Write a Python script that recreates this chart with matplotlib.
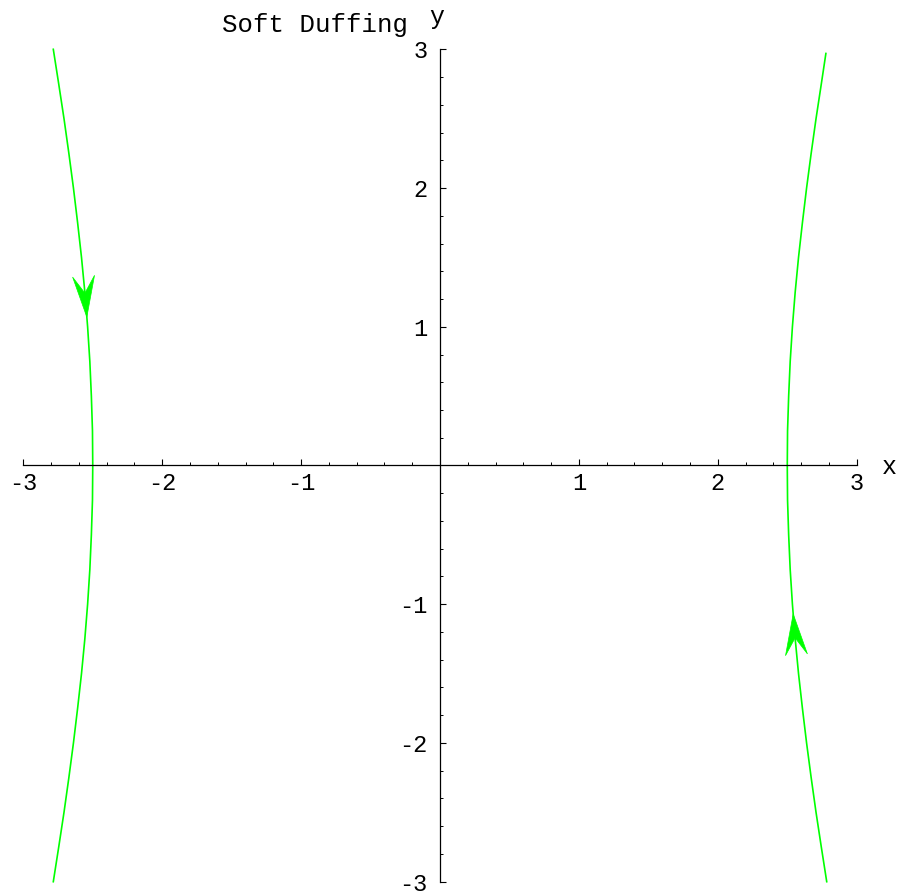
import numpy as np
import matplotlib
matplotlib.use("Agg")
import matplotlib.pyplot as plt
from matplotlib.patches import Polygon
from matplotlib import transforms

# trajectory of the soft Duffing oscillator, left branch (x, y) from top to bottom
left_y = [3.0, 2.75, 2.5, 2.25, 2.0, 1.75, 1.5, 1.25, 1.0, 0.75, 0.5, 0.25, 0.0,
          -0.25, -0.5, -0.75, -1.0, -1.25, -1.5, -1.75, -2.0, -2.25, -2.5, -2.75, -3.0]
left_x = [-2.784, -2.745, -2.707, -2.672, -2.639, -2.609, -2.581, -2.557, -2.537,
          -2.521, -2.510, -2.502, -2.500, -2.502, -2.510, -2.521, -2.537, -2.557,
          -2.581, -2.609, -2.639, -2.672, -2.707, -2.745, -2.784]
# right branch, bottom to top
right_y = [-3.0, -2.75, -2.5, -2.25, -2.0, -1.75, -1.5, -1.25, -1.0, -0.75, -0.5, -0.25, 0.0,
           0.25, 0.5, 0.75, 1.0, 1.25, 1.5, 1.75, 2.0, 2.25, 2.5, 2.75, 2.97]
right_x = [2.784, 2.745, 2.707, 2.672, 2.639, 2.609, 2.581, 2.557, 2.537,
           2.521, 2.510, 2.502, 2.500, 2.502, 2.510, 2.521, 2.537, 2.557,
           2.581, 2.609, 2.639, 2.672, 2.707, 2.745, 2.778]
# y position of the arrow tips; -1 = flow goes down, +1 = flow goes up
left_arrow_y, left_flow = 1.07, -1
right_arrow_y, right_flow = -1.07, 1

x_ticks = [-3, -2, -1, 1, 2, 3]
y_ticks = [-3, -2, -1, 1, 2, 3]
tick_labels = ["-3", "-2", "-1", "1", "2", "3"]

green = "#00ff00"
font = "Liberation Mono"

fig = plt.figure(figsize=(9.01, 8.94), dpi=100)
ax = fig.add_axes([0.02586, 0.01376, 0.925, 0.9311])
ax.set_xlim(-3, 3)
ax.set_ylim(-3, 3)

for s in ["top", "right"]:
    ax.spines[s].set_visible(False)
ax.spines["left"].set_position(("data", 0))
ax.spines["bottom"].set_position(("data", 0))
ax.spines["left"].set_bounds(-3, 3)
ax.spines["bottom"].set_bounds(-3, 3)
for s in ["left", "bottom"]:
    ax.spines[s].set_linewidth(0.9)

ax.set_xticks(x_ticks)
ax.set_xticklabels(tick_labels, family=font, fontsize=17)
ax.set_yticks(y_ticks)
ax.set_yticklabels(tick_labels, family=font, fontsize=17)
minor = [round(v, 1) for v in np.arange(-3, 3.01, 0.2) if abs(v - round(v)) > 1e-6]
ax.set_xticks(minor, minor=True)
ax.set_yticks(minor, minor=True)
ax.tick_params(which="major", direction="in", length=4, width=0.8)
ax.tick_params(which="minor", direction="in", length=2.2, width=0.7)
ax.tick_params(axis="x", which="major", pad=5)
ax.tick_params(axis="y", which="major", pad=9)

ax.plot(left_x, left_y, color=green, lw=1.2, clip_on=False)
ax.plot(right_x, right_y, color=green, lw=1.2, clip_on=False)


def arrowhead(xs, ys, y_tip, flow):
    # notched arrowhead sitting on the curve, pointing along the flow
    order = np.argsort(ys)
    ys_s = np.asarray(ys)[order]
    xs_s = np.asarray(xs)[order]
    x_tip = np.interp(y_tip, ys_s, xs_s)
    y_back = y_tip - flow * 0.1
    x_back = np.interp(y_back, ys_s, xs_s)
    p0 = ax.transData.transform((x_tip, y_tip))
    p1 = ax.transData.transform((x_back, y_back))
    d = (p0 - p1) / np.hypot(*(p0 - p1))
    n = np.array([-d[1], d[0]])
    L, N, W = 41, 24, 11
    pts = np.array([[0, 0], -L * d + W * n, -N * d, -L * d - W * n]) / 100.0
    tr = fig.dpi_scale_trans + transforms.ScaledTranslation(x_tip, y_tip, ax.transData)
    ax.add_patch(Polygon(pts, closed=True, facecolor=green, edgecolor=green,
                         lw=0.5, transform=tr, clip_on=False))


arrowhead(left_x, left_y, left_arrow_y, left_flow)
arrowhead(right_x, right_y, right_arrow_y, right_flow)

fig.text(408 / 901, 1 - 32 / 894, "Soft Duffing", family=font, fontsize=18.5,
         ha="right", va="baseline")
fig.text(437 / 901, 1 - 24 / 894, "y", family=font, fontsize=18, ha="center", va="baseline")
fig.text(889 / 901, 1 - 474 / 894, "x", family=font, fontsize=18, ha="center", va="baseline")

fig.savefig("out.png", dpi=100)
